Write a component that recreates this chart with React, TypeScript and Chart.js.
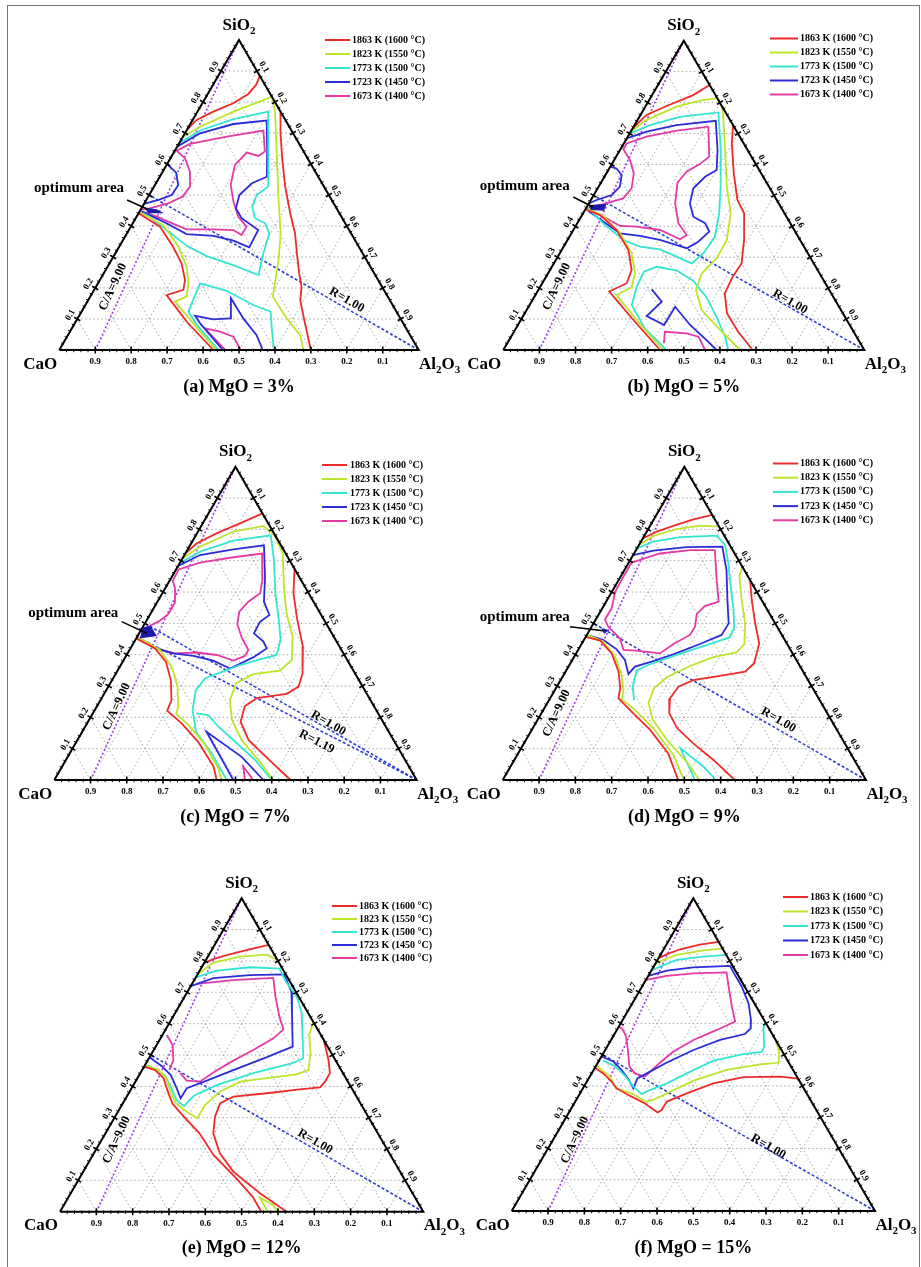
import React, { useEffect, useRef } from "react";
import { Chart, registerables } from "chart.js";

Chart.register(...registerables);

// A composition point: [Al2O3 fraction, SiO2 fraction]; CaO = 1 - Al2O3 - SiO2.
type Pt = [number, number];

// ---------- shared axis, legend and ratio-line values ----------
const TICKS = [0.1, 0.2, 0.3, 0.4, 0.5, 0.6, 0.7, 0.8, 0.9];
const TICK_LABELS = ["0.1", "0.2", "0.3", "0.4", "0.5", "0.6", "0.7", "0.8", "0.9"];
const ISOTHERMS = ["1863 K (1600 °C)", "1823 K (1550 °C)", "1773 K (1500 °C)", "1723 K (1450 °C)", "1673 K (1400 °C)"];
const CA_RATIO = 9.0;
const MGO_CONTENT = [3, 5, 7, 9, 12, 15];
const PANEL_TAGS = ["a", "b", "c", "d", "e", "f"];
const BASICITY: number[][] = [[1.0], [1.0], [1.0, 1.19], [1.0], [1.0], [1.0]];

// ---------- isotherms, MgO = 3 % ----------
const mgo3_1863: Pt[][] = [
  [[0.116, 0.884], [0.12, 0.855], [0.113, 0.826], [0.086, 0.796], [0.044, 0.769], [0.011, 0.742], [0, 0.71]],
  [[0.231, 0.769], [0.266, 0.699], [0.314, 0.613], [0.365, 0.527], [0.422, 0.441], [0.468, 0.376], [0.505, 0.312], [0.544, 0.247], [0.572, 0.204], [0.59, 0.161], [0.633, 0.097], [0.7, 0]],
  [[0, 0.441], [0.081, 0.398], [0.15, 0.333], [0.2, 0.28], [0.237, 0.226], [0.248, 0.194], [0.21, 0.177], [0.309, 0.091], [0.429, 0]],
];
const mgo3_1823: Pt[][] = [
  [[0, 0.688], [0.032, 0.72], [0.1, 0.769], [0.165, 0.806], [0.183, 0.817], [0.213, 0.774], [0.282, 0.645], [0.368, 0.484], [0.428, 0.376], [0.465, 0.29], [0.508, 0.172], [0.582, 0.102], [0.646, 0.048], [0.679, 0]],
  [[0, 0.445], [0.088, 0.403], [0.165, 0.333], [0.22, 0.269], [0.252, 0.215], [0.268, 0.172], [0.244, 0.156], [0.33, 0.086], [0.436, 0]],
];
const mgo3_1773: Pt[][] = [
  [[0, 0.667], [0.038, 0.708], [0.112, 0.745], [0.197, 0.769], [0.259, 0.645], [0.318, 0.527], [0.299, 0.5], [0.306, 0.462], [0.332, 0.425], [0.368, 0.409], [0.396, 0.376], [0.412, 0.312], [0.433, 0.242], [0.347, 0.274], [0.258, 0.303], [0.187, 0.336], [0.105, 0.387], [0.032, 0.432], [0.011, 0.441]],
  [[0.443, 0], [0.342, 0.081], [0.297, 0.124], [0.284, 0.215], [0.37, 0.191], [0.467, 0.145], [0.526, 0.124], [0.559, 0.065], [0.597, 0]],
];
const mgo3_1723: Pt[][] = [
  [[0, 0.6], [0.039, 0.572], [0.065, 0.532], [0.063, 0.5], [0.034, 0.484], [0, 0.471]],
  [[0, 0.656], [0.042, 0.699], [0.12, 0.729], [0.207, 0.74], [0.256, 0.645], [0.298, 0.559], [0.267, 0.538], [0.251, 0.5], [0.263, 0.457], [0.295, 0.425], [0.36, 0.387], [0.363, 0.331], [0.308, 0.353], [0.245, 0.368], [0.167, 0.374], [0.094, 0.409], [0.024, 0.439], [0.005, 0.447]],
  [[0.455, 0], [0.349, 0.086], [0.323, 0.11], [0.379, 0.099], [0.424, 0.102], [0.394, 0.167], [0.461, 0.102], [0.525, 0.048], [0.566, 0]],
];
const mgo3_1673: Pt[][] = [
  [[0, 0.452], [0.022, 0.457], [0.067, 0.473], [0.096, 0.495], [0.1, 0.527], [0.076, 0.575], [0.041, 0.618], [0.005, 0.643], [0.031, 0.665], [0.122, 0.688], [0.214, 0.708], [0.252, 0.64], [0.241, 0.626], [0.203, 0.637], [0.19, 0.597], [0.211, 0.532], [0.245, 0.479], [0.283, 0.43], [0.322, 0.398], [0.322, 0.371], [0.291, 0.387], [0.234, 0.389], [0.16, 0.389], [0.114, 0.407], [0.056, 0.43], [0.014, 0.445]],
  [[0.462, 0], [0.37, 0.07], [0.418, 0.059], [0.463, 0.043], [0.505, 0]],
];

// ---------- isotherms, MgO = 5 % ----------
const mgo5_1863: Pt[][] = [
  [[0.143, 0.857], [0.114, 0.824], [0.058, 0.789], [0.017, 0.76], [0, 0.717]],
  [[0.273, 0.727], [0.299, 0.668], [0.353, 0.571], [0.406, 0.485], [0.446, 0.442], [0.489, 0.356], [0.52, 0.28], [0.517, 0.237], [0.522, 0.183], [0.56, 0.119], [0.621, 0.059], [0.691, 0]],
  [[0, 0.455], [0.05, 0.436], [0.12, 0.388], [0.185, 0.323], [0.226, 0.259], [0.234, 0.216], [0.199, 0.189], [0.312, 0.097], [0.434, 0]],
];
const mgo5_1823: Pt[][] = [
  [[0, 0.706], [0.025, 0.744], [0.087, 0.787], [0.142, 0.806], [0.186, 0.814], [0.22, 0.776], [0.291, 0.647], [0.355, 0.528], [0.409, 0.442], [0.441, 0.356], [0.443, 0.296], [0.426, 0.248], [0.437, 0.194], [0.485, 0.129], [0.568, 0.065], [0.656, 0]],
  [[0, 0.461], [0.06, 0.433], [0.135, 0.377], [0.199, 0.313], [0.241, 0.248], [0.254, 0.203], [0.225, 0.178], [0.329, 0.09], [0.443, 0]],
];
const mgo5_1773: Pt[][] = [
  [[0, 0.7], [0.043, 0.727], [0.112, 0.754], [0.212, 0.768], [0.279, 0.647], [0.338, 0.528], [0.377, 0.442], [0.403, 0.366], [0.398, 0.313], [0.382, 0.28], [0.329, 0.302], [0.271, 0.325], [0.212, 0.334], [0.16, 0.353], [0.087, 0.399], [0.022, 0.446]],
  [[0.452, 0], [0.357, 0.07], [0.283, 0.146], [0.267, 0.205], [0.263, 0.253], [0.29, 0.269], [0.352, 0.257], [0.414, 0.224], [0.478, 0.17], [0.538, 0.106], [0.593, 0.043], [0.623, 0]],
];
const mgo5_1723: Pt[][] = [
  [[0, 0.593], [0.02, 0.587], [0.045, 0.566], [0.059, 0.528], [0.05, 0.501], [0.016, 0.485], [0, 0.474]],
  [[0, 0.684], [0.044, 0.706], [0.116, 0.727], [0.218, 0.741], [0.27, 0.647], [0.3, 0.582], [0.279, 0.56], [0.265, 0.523], [0.28, 0.474], [0.311, 0.431], [0.354, 0.41], [0.379, 0.383], [0.365, 0.35], [0.344, 0.329], [0.256, 0.356], [0.194, 0.369], [0.135, 0.377], [0.07, 0.415], [0.01, 0.45]],
  [[0.313, 0.196], [0.361, 0.156], [0.342, 0.11], [0.405, 0.081], [0.406, 0.14], [0.477, 0.081], [0.547, 0.032], [0.591, 0]],
];
const mgo5_1673: Pt[][] = [
  [[0, 0.457], [0.041, 0.472], [0.087, 0.49], [0.094, 0.523], [0.076, 0.571], [0.044, 0.614], [0.008, 0.649], [0.008, 0.668], [0.052, 0.69], [0.126, 0.709], [0.207, 0.722], [0.258, 0.625], [0.244, 0.601], [0.22, 0.577], [0.212, 0.541], [0.239, 0.474], [0.28, 0.41], [0.322, 0.372], [0.311, 0.358], [0.24, 0.388], [0.17, 0.399], [0.123, 0.401], [0.062, 0.431], [0.017, 0.45]],
  [[0.434, 0.022], [0.418, 0.059], [0.481, 0.054], [0.519, 0.043], [0.559, 0]],
];

// ---------- isotherms, MgO = 7 % ----------
const mgo7_1863: Pt[][] = [
  [[0.149, 0.851], [0.103, 0.819], [0.054, 0.787], [0.015, 0.755], [0, 0.723]],
  [[0.325, 0.676], [0.362, 0.596], [0.415, 0.511], [0.473, 0.426], [0.515, 0.34], [0.525, 0.298], [0.504, 0.275], [0.428, 0.261], [0.408, 0.236], [0.421, 0.186], [0.472, 0.128], [0.564, 0.062], [0.652, 0]],
  [[0, 0.452], [0.068, 0.42], [0.119, 0.378], [0.162, 0.319], [0.196, 0.255], [0.201, 0.221], [0.261, 0.181], [0.336, 0.122], [0.418, 0.043], [0.448, 0]],
];
const mgo7_1823: Pt[][] = [
  [[0, 0.707], [0.03, 0.745], [0.098, 0.793], [0.172, 0.811], [0.215, 0.783], [0.269, 0.723], [0.325, 0.617], [0.375, 0.532], [0.429, 0.457], [0.464, 0.383], [0.448, 0.349], [0.38, 0.338], [0.347, 0.309], [0.357, 0.255], [0.394, 0.192], [0.453, 0.128], [0.556, 0.043], [0.604, 0]],
  [[0, 0.457], [0.084, 0.415], [0.143, 0.362], [0.191, 0.298], [0.225, 0.234], [0.231, 0.211], [0.282, 0.176], [0.355, 0.117], [0.434, 0.037], [0.462, 0]],
];
const mgo7_1773: Pt[][] = [
  [[0, 0.692], [0.038, 0.729], [0.112, 0.764], [0.207, 0.781], [0.255, 0.702], [0.312, 0.596], [0.364, 0.511], [0.401, 0.447], [0.414, 0.399], [0.375, 0.385], [0.329, 0.367], [0.286, 0.343], [0.254, 0.325], [0.247, 0.287], [0.27, 0.223], [0.314, 0.154], [0.392, 0.085], [0.476, 0]],
  [[0.6, 0], [0.522, 0.064], [0.438, 0.122], [0.368, 0.17], [0.321, 0.207], [0.286, 0.213]],
];
const mgo7_1723: Pt[][] = [
  [[0, 0.683], [0.043, 0.718], [0.126, 0.736], [0.204, 0.749], [0.257, 0.649], [0.294, 0.569], [0.33, 0.527], [0.315, 0.505], [0.317, 0.468], [0.356, 0.442], [0.376, 0.42], [0.354, 0.392], [0.307, 0.356], [0.248, 0.381], [0.186, 0.396], [0.126, 0.404], [0.072, 0.42], [0.023, 0.445]],
  [[0.494, 0], [0.343, 0.154], [0.48, 0.074], [0.577, 0]],
];
const mgo7_1673: Pt[][] = [
  [[0.005, 0.481], [0.036, 0.507], [0.05, 0.529], [0.05, 0.566], [0.027, 0.612], [0.009, 0.636], [0.007, 0.672], [0.055, 0.694], [0.139, 0.711], [0.212, 0.723], [0.255, 0.638], [0.27, 0.596], [0.251, 0.569], [0.242, 0.537], [0.256, 0.498], [0.288, 0.457], [0.328, 0.415], [0.328, 0.396], [0.304, 0.381], [0.249, 0.399], [0.189, 0.407], [0.131, 0.404], [0.084, 0.415], [0.036, 0.438]],
  [[0.526, 0], [0.5, 0.043], [0.549, 0]],
];

// ---------- isotherms, MgO = 9 % ----------
const mgo9_1863: Pt[][] = [
  [[0.154, 0.846], [0.109, 0.832], [0.064, 0.811], [0.028, 0.793], [0, 0.771]],
  [[0.362, 0.638], [0.398, 0.575], [0.445, 0.5], [0.488, 0.436], [0.506, 0.372], [0.494, 0.346], [0.432, 0.332], [0.365, 0.319], [0.335, 0.298], [0.33, 0.261], [0.352, 0.213], [0.398, 0.165], [0.466, 0.117], [0.548, 0.064], [0.639, 0]],
  [[0, 0.457], [0.046, 0.445], [0.098, 0.404], [0.146, 0.346], [0.177, 0.293], [0.188, 0.261], [0.239, 0.223], [0.326, 0.16], [0.413, 0.085], [0.483, 0]],
];
const mgo9_1823: Pt[][] = [
  [[0, 0.75], [0.025, 0.779], [0.078, 0.801], [0.137, 0.812], [0.191, 0.809]],
  [[0.319, 0.681], [0.327, 0.649], [0.374, 0.569], [0.42, 0.495], [0.448, 0.434], [0.44, 0.407], [0.384, 0.392], [0.334, 0.364], [0.288, 0.328], [0.27, 0.293], [0.278, 0.247], [0.317, 0.192], [0.395, 0.122], [0.477, 0.059], [0.541, 0]],
  [[0, 0.463], [0.056, 0.442], [0.112, 0.394], [0.16, 0.335], [0.189, 0.287], [0.2, 0.257], [0.249, 0.226], [0.336, 0.162], [0.43, 0.08], [0.499, 0]],
];
const mgo9_1773: Pt[][] = [
  [[0, 0.739], [0.034, 0.761], [0.101, 0.775], [0.199, 0.78], [0.237, 0.75], [0.275, 0.692], [0.319, 0.617], [0.364, 0.543], [0.395, 0.484], [0.396, 0.455], [0.361, 0.438], [0.316, 0.417], [0.265, 0.392], [0.217, 0.367], [0.194, 0.349], [0.209, 0.298], [0.234, 0.255]],
  [[0.529, 0], [0.439, 0.101], [0.531, 0.043], [0.587, 0]],
];
const mgo9_1723: Pt[][] = [
  [[0, 0.718], [0.049, 0.732], [0.135, 0.743], [0.232, 0.745], [0.281, 0.67], [0.331, 0.575], [0.372, 0.5], [0.371, 0.463], [0.326, 0.434], [0.269, 0.401], [0.221, 0.378], [0.183, 0.362], [0.177, 0.338], [0.145, 0.383], [0.105, 0.417], [0.054, 0.447], [0.011, 0.46]],
];
const mgo9_1673: Pt[][] = [
  [[0.008, 0.694], [0.071, 0.723], [0.149, 0.734], [0.217, 0.734], [0.27, 0.638], [0.31, 0.569], [0.279, 0.555], [0.269, 0.53], [0.285, 0.489], [0.284, 0.463], [0.253, 0.434], [0.231, 0.404], [0.162, 0.413], [0.125, 0.415], [0.097, 0.452], [0.046, 0.489], [0.025, 0.513], [0.026, 0.548], [0.009, 0.601], [0.008, 0.649], [0.008, 0.694]],
];

// ---------- isotherms, MgO = 12 % ----------
const mgo12_1863: Pt[][] = [
  [[0.149, 0.851], [0.096, 0.835], [0.049, 0.819], [0.019, 0.806], [0, 0.793]],
  [[0.452, 0.548], [0.497, 0.484], [0.522, 0.442], [0.522, 0.415], [0.517, 0.397], [0.465, 0.39], [0.38, 0.378], [0.294, 0.367], [0.268, 0.346], [0.275, 0.303], [0.297, 0.25], [0.347, 0.186], [0.413, 0.128], [0.521, 0.059], [0.624, 0]],
  [[0, 0.463], [0.036, 0.452], [0.072, 0.426], [0.111, 0.376], [0.138, 0.344], [0.187, 0.305], [0.259, 0.25], [0.332, 0.181], [0.427, 0.11], [0.506, 0.048], [0.554, 0]],
];
const mgo12_1823: Pt[][] = [
  [[0, 0.755], [0.025, 0.795], [0.089, 0.814], [0.159, 0.82], [0.197, 0.803]],
  [[0.394, 0.606], [0.404, 0.564], [0.437, 0.505], [0.458, 0.452], [0.432, 0.438], [0.356, 0.426], [0.288, 0.415], [0.249, 0.383], [0.229, 0.34], [0.229, 0.298], [0.189, 0.319], [0.146, 0.346], [0.115, 0.38], [0.077, 0.429], [0.041, 0.454], [0, 0.467]],
  [[0.572, 0], [0.527, 0.045], [0.575, 0.022], [0.6, 0]],
];
const mgo12_1773: Pt[][] = [
  [[0, 0.748], [0.047, 0.769], [0.133, 0.78], [0.216, 0.776], [0.255, 0.734], [0.309, 0.686], [0.349, 0.633], [0.394, 0.548], [0.425, 0.489], [0.401, 0.473], [0.311, 0.442], [0.229, 0.404], [0.183, 0.369], [0.173, 0.337], [0.143, 0.356], [0.105, 0.399], [0.071, 0.435], [0.034, 0.454], [0.007, 0.467]],
];
const mgo12_1723: Pt[][] = [
  [[0, 0.72], [0.05, 0.745], [0.145, 0.755], [0.238, 0.757], [0.286, 0.702], [0.322, 0.633], [0.377, 0.527], [0.323, 0.493], [0.251, 0.452], [0.195, 0.418], [0.152, 0.394], [0.151, 0.362], [0.124, 0.394], [0.087, 0.436], [0.047, 0.465], [0, 0.493]],
];
const mgo12_1673: Pt[][] = [
  [[0.013, 0.727], [0.107, 0.739], [0.214, 0.746], [0.25, 0.686], [0.293, 0.622], [0.324, 0.582], [0.311, 0.553], [0.274, 0.516], [0.236, 0.482], [0.2, 0.444], [0.178, 0.415], [0.14, 0.418], [0.11, 0.442]],
  [[0.012, 0.564], [0.044, 0.532], [0.07, 0.484], [0.075, 0.452]],
];

// ---------- isotherms, MgO = 15 % ----------
const mgo15_1863: Pt[][] = [
  [[0.139, 0.861], [0.092, 0.852], [0.045, 0.837], [0.013, 0.819], [0, 0.808]],
  [[0.577, 0.423], [0.524, 0.43], [0.424, 0.428], [0.351, 0.408], [0.294, 0.376], [0.252, 0.35], [0.251, 0.323], [0.244, 0.315], [0.195, 0.344], [0.142, 0.368], [0.093, 0.392], [0.068, 0.414], [0.032, 0.44], [0, 0.458]],
];
const mgo15_1823: Pt[][] = [
  [[0.16, 0.84], [0.103, 0.832], [0.045, 0.819], [0.013, 0.801], [0, 0.79]],
  [[0.453, 0.547], [0.485, 0.504], [0.497, 0.474], [0.449, 0.469], [0.366, 0.451], [0.292, 0.417], [0.239, 0.376], [0.212, 0.355], [0.193, 0.349], [0.148, 0.374], [0.091, 0.392], [0.057, 0.428], [0, 0.466]],
];
const mgo15_1773: Pt[][] = [
  [[0.181, 0.819], [0.112, 0.813], [0.053, 0.803], [0.021, 0.784], [0, 0.769]],
  [[0.395, 0.606], [0.401, 0.584], [0.432, 0.526], [0.434, 0.509], [0.387, 0.502], [0.315, 0.481], [0.262, 0.44], [0.223, 0.408], [0.184, 0.385], [0.171, 0.374], [0.136, 0.398], [0.096, 0.432], [0.054, 0.462], [0.012, 0.481]],
];
const mgo15_1723: Pt[][] = [
  [[0, 0.752], [0.042, 0.769], [0.11, 0.779], [0.209, 0.784], [0.232, 0.76], [0.274, 0.718], [0.32, 0.664], [0.353, 0.611], [0.366, 0.584], [0.359, 0.566], [0.3, 0.547], [0.243, 0.515], [0.189, 0.474], [0.152, 0.44], [0.134, 0.424], [0.139, 0.392], [0.111, 0.421], [0.077, 0.451], [0.041, 0.478], [0, 0.494]],
];
const mgo15_1673: Pt[][] = [
  [[0, 0.739], [0.051, 0.752], [0.12, 0.76], [0.21, 0.763], [0.238, 0.718], [0.279, 0.654], [0.312, 0.606], [0.275, 0.579], [0.227, 0.547], [0.19, 0.51], [0.171, 0.474], [0.152, 0.43], [0.119, 0.44], [0.093, 0.462], [0.069, 0.504], [0.036, 0.558], [0.015, 0.581], [0, 0.59]],
];

// ---------- optimum composition patches ----------
const OPT_MGO3: Pt[] = [[0.006, 0.46], [0.044, 0.454], [0.071, 0.441], [0.027, 0.441]];
const OPT_MGO5: Pt[] = [[0.001, 0.469], [0.05, 0.472], [0.054, 0.45], [0.016, 0.453]];
const OPT_MGO7: Pt[] = [[0, 0.487], [0.02, 0.492], [0.053, 0.46], [0.01, 0.452]];
const OPT_MGO9: Pt[] = [[0.03, 0.484], [0.053, 0.479], [0.046, 0.466]];

// ---------- styling ----------
const SERIF = "'Liberation Serif', 'Times New Roman', Times, serif";
const ISO_COLORS = ["#ee2b2b", "#bde52c", "#34e6d2", "#2b2bd8", "#e43aa4"];
const GRID_COLOR = "#a8a8a8";
const CA_COLOR = "#a03cf0";
const R_COLOR = "#3040d0";
const OPT_FILL = "#1c1ca8";

type LegendBox = { x0: number; x1: number; tx: number; y0: number; step: number };
type PanelCfg = {
  tag: string;
  mgo: number;
  box: [number, number, number, number]; // canvas left, top, width, height on the page
  origin: [number, number]; // page position of the CaO corner
  side: number; // CaO–Al2O3 edge length, px
  tall: number; // triangle height, px
  curves: Pt[][][];
  basicity: number[];
  optimum?: Pt[];
  optimumText?: [number, number]; // plot coords (x along base, y = SiO2)
  optimumArrow?: [number, number, number, number];
  rLabels: [number, number][];
  caLabel: [number, number];
  legend: LegendBox;
};

const PANELS: PanelCfg[] = [
  {
    tag: PANEL_TAGS[0], mgo: MGO_CONTENT[0], box: [0, 0, 470, 405], origin: [59.3, 350], side: 359.4, tall: 310,
    curves: [mgo3_1863, mgo3_1823, mgo3_1773, mgo3_1723, mgo3_1673], basicity: BASICITY[0],
    optimum: OPT_MGO3, optimumText: [0.0548, 0.5226], optimumArrow: [0.1886, 0.4839, 0.2444, 0.4548],
    rLabels: [[0.7997, 0.1613]], caLabel: [0.1494, 0.2032],
    legend: { x0: 325, x1: 350, tx: 352, y0: 40, step: 14 },
  },
  {
    tag: PANEL_TAGS[1], mgo: MGO_CONTENT[1], box: [455, 0, 466, 405], origin: [503.3, 350], side: 361, tall: 309.3,
    curves: [mgo5_1863, mgo5_1823, mgo5_1773, mgo5_1723, mgo5_1673], basicity: BASICITY[1],
    optimum: OPT_MGO5, optimumText: [0.0593, 0.531], optimumArrow: [0.1939, 0.4947, 0.2485, 0.4623],
    rLabels: [[0.7942, 0.156]], caLabel: [0.1479, 0.2047],
    legend: { x0: 770, x1: 798, tx: 800, y0: 38.5, step: 14 },
  },
  {
    tag: PANEL_TAGS[2], mgo: MGO_CONTENT[2], box: [0, 410, 470, 425], origin: [54.3, 780], side: 362.4, tall: 313.3,
    curves: [mgo7_1863, mgo7_1823, mgo7_1773, mgo7_1723, mgo7_1673], basicity: BASICITY[2],
    optimum: OPT_MGO7, optimumText: [0.0524, 0.534], optimumArrow: [0.186, 0.5053, 0.255, 0.4682],
    rLabels: [[0.756, 0.181], [0.724, 0.122]], caLabel: [0.1722, 0.234],
    legend: { x0: 322, x1: 347, tx: 350, y0: 465, step: 14 },
  },
  {
    tag: PANEL_TAGS[3], mgo: MGO_CONTENT[3], box: [455, 410, 466, 425], origin: [502.7, 780], side: 363.3, tall: 313.3,
    curves: [mgo9_1863, mgo9_1823, mgo9_1773, mgo9_1723, mgo9_1673], basicity: BASICITY[3],
    optimum: OPT_MGO9, optimumText: [0.0606, 0.5212], optimumArrow: [0.1852, 0.4893, 0.2769, 0.4765],
    rLabels: [[0.7586, 0.1915]], caLabel: [0.1486, 0.2129],
    legend: { x0: 773, x1: 798, tx: 800, y0: 463.5, step: 14.2 },
  },
  {
    tag: PANEL_TAGS[4], mgo: MGO_CONTENT[4], box: [0, 840, 470, 427], origin: [60, 1211.7], side: 363.3, tall: 313.4,
    curves: [mgo12_1863, mgo12_1823, mgo12_1773, mgo12_1723, mgo12_1673], basicity: BASICITY[4],
    rLabels: [[0.7019, 0.2234]], caLabel: [0.156, 0.2288],
    legend: { x0: 332, x1: 357, tx: 359, y0: 906, step: 13 },
  },
  {
    tag: PANEL_TAGS[5], mgo: MGO_CONTENT[5], box: [455, 840, 466, 427], origin: [511.7, 1211], side: 363.3, tall: 312.7,
    curves: [mgo15_1863, mgo15_1823, mgo15_1773, mgo15_1723, mgo15_1673], basicity: BASICITY[5],
    rLabels: [[0.7063, 0.2056]], caLabel: [0.1742, 0.227],
    legend: { x0: 783, x1: 808, tx: 810, y0: 897, step: 14.5 },
  },
];

// ternary composition -> plot coordinates (x along the CaO–Al2O3 base, y = SiO2 fraction)
const toXY = (p: Pt) => ({ x: p[0] + p[1] / 2, y: p[1] });

function lineSet(pts: Pt[], color: string, width: number, dash: number[], order: number) {
  return {
    data: pts.map(toXY),
    showLine: true,
    borderColor: color,
    borderWidth: width,
    borderDash: dash,
    pointRadius: 0,
    pointHoverRadius: 0,
    fill: false,
    tension: 0,
    order,
  };
}

function buildDatasets(p: PanelCfg) {
  const ds: any[] = [];
  ds.push(lineSet([[0, 0], [1, 0], [0, 1], [0, 0]], "#000", 2, [], 0));
  p.curves.forEach((group, i) => group.forEach((c) => ds.push(lineSet(c, ISO_COLORS[i], 1.8, [], 1))));
  ds.push(lineSet([[1 / (1 + CA_RATIO), 0], [0, 1]], CA_COLOR, 1.6, [2, 2], 2));
  p.basicity.forEach((r) => ds.push(lineSet([[1, 0], [0, 1 / (1 + r)]], R_COLOR, 1.6, [3, 2], 2)));
  TICKS.forEach((k) => {
    ds.push(lineSet([[0, k], [1 - k, k]], GRID_COLOR, 1, [1.5, 2.5], 3));
    ds.push(lineSet([[k, 0], [k, 1 - k]], GRID_COLOR, 1, [1.5, 2.5], 3));
    ds.push(lineSet([[1 - k, 0], [0, 1 - k]], GRID_COLOR, 1, [1.5, 2.5], 3));
  });
  return ds;
}

function drawFormula(ctx: CanvasRenderingContext2D, parts: [string, boolean][], cx: number, cy: number, size: number) {
  const big = `bold ${size}px ${SERIF}`;
  const small = `bold ${Math.round(size * 0.62)}px ${SERIF}`;
  let total = 0;
  const widths = parts.map(([t, sub]) => {
    ctx.font = sub ? small : big;
    const w = ctx.measureText(t).width;
    total += w;
    return w;
  });
  let x = cx - total / 2;
  const base = cy + size * 0.34;
  ctx.textAlign = "left";
  ctx.textBaseline = "alphabetic";
  parts.forEach(([t, sub], i) => {
    ctx.font = sub ? small : big;
    ctx.fillText(t, x, sub ? base + size * 0.25 : base);
    x += widths[i];
  });
}

function rotatedText(ctx: CanvasRenderingContext2D, text: string, x: number, y: number, angle: number) {
  ctx.save();
  ctx.translate(x, y);
  ctx.rotate(angle);
  ctx.textAlign = "center";
  ctx.textBaseline = "middle";
  ctx.fillText(text, 0, 0);
  ctx.restore();
}

function makeOverlay(p: PanelCfg) {
  return {
    id: "ternaryOverlay",
    afterDatasetsDraw(chart: any) {
      const ctx: CanvasRenderingContext2D = chart.ctx;
      const sx = chart.scales.x;
      const sy = chart.scales.y;
      const Q = (x: number, y: number): [number, number] => [sx.getPixelForValue(x), sy.getPixelForValue(y)];
      const P = (a: number, s: number) => Q(a + s / 2, s);
      const [ox, oy] = [p.box[0], p.box[1]];
      ctx.save();

      // optimum composition patch
      if (p.optimum) {
        ctx.beginPath();
        p.optimum.forEach((pt, i) => {
          const [x, y] = P(pt[0], pt[1]);
          if (i) ctx.lineTo(x, y);
          else ctx.moveTo(x, y);
        });
        ctx.closePath();
        ctx.fillStyle = OPT_FILL;
        ctx.fill();
      }

      // edge ticks and tick labels (edges run counter-clockwise on screen)
      const cao = P(0, 0), al = P(1, 0), si = P(0, 1);
      const edges: { a: [number, number]; b: [number, number]; kind: string }[] = [
        { a: cao, b: al, kind: "bottom" },
        { a: al, b: si, kind: "right" },
        { a: si, b: cao, kind: "left" },
      ];
      ctx.strokeStyle = "#000";
      ctx.fillStyle = "#000";
      edges.forEach(({ a, b, kind }) => {
        const len = Math.hypot(b[0] - a[0], b[1] - a[1]);
        const dx = (b[0] - a[0]) / len, dy = (b[1] - a[1]) / len;
        const nx = -dy, ny = dx;
        for (let i = 1; i < 50; i++) {
          const t = i / 50;
          const px = a[0] + (b[0] - a[0]) * t, py = a[1] + (b[1] - a[1]) * t;
          const major = i % 5 === 0;
          ctx.lineWidth = major ? 1.6 : 1;
          ctx.beginPath();
          if (major) {
            ctx.moveTo(px - nx * 3.5, py - ny * 3.5);
            ctx.lineTo(px + nx * 3.5, py + ny * 3.5);
          } else {
            ctx.moveTo(px - nx * 1.2, py - ny * 1.2);
            ctx.lineTo(px + nx * 2.2, py + ny * 2.2);
          }
          ctx.stroke();
        }
        ctx.font = `bold 9px ${SERIF}`;
        TICKS.forEach((t) => {
          const label = TICK_LABELS[Math.round((1 - t) * 10) - 1];
          const px = a[0] + (b[0] - a[0]) * t, py = a[1] + (b[1] - a[1]) * t;
          if (kind === "bottom") rotatedText(ctx, label, px, py + 12, 0);
          else rotatedText(ctx, label, px + nx * 8, py + ny * 8, Math.atan2(-dy, -dx));
        });
      });

      // corner labels and caption
      drawFormula(ctx, [["CaO", false]], cao[0] - 19, cao[1] + 13, 17);
      drawFormula(ctx, [["Al", false], ["2", true], ["O", false], ["3", true]], al[0] + 21, al[1] + 13, 17);
      drawFormula(ctx, [["SiO", false], ["2", true]], si[0], si[1] - 16, 17);
      ctx.font = `bold 18px ${SERIF}`;
      ctx.textAlign = "center";
      ctx.textBaseline = "middle";
      ctx.fillText(`(${p.tag}) MgO = ${p.mgo}%`, (cao[0] + al[0]) / 2, cao[1] + 37);

      // ratio line labels
      ctx.font = `bold 12.5px ${SERIF}`;
      const caStart = P(1 / (1 + CA_RATIO), 0);
      const caAngle = Math.atan2(si[1] - caStart[1], si[0] - caStart[0]);
      const [cx, cy] = Q(p.caLabel[0], p.caLabel[1]);
      rotatedText(ctx, `C/A=${CA_RATIO.toFixed(2)}`, cx, cy, caAngle);
      p.basicity.forEach((r, i) => {
        const left = P(0, 1 / (1 + r));
        const ang = Math.atan2(al[1] - left[1], al[0] - left[0]);
        const [rx, ry] = Q(p.rLabels[i][0], p.rLabels[i][1]);
        rotatedText(ctx, `R=${r.toFixed(2)}`, rx, ry, ang);
      });

      // optimum label with leader line
      if (p.optimumText && p.optimumArrow) {
        ctx.font = `bold 15px ${SERIF}`;
        const [tx, ty] = Q(p.optimumText[0], p.optimumText[1]);
        rotatedText(ctx, "optimum area", tx, ty, 0);
        const [x1, y1] = Q(p.optimumArrow[0], p.optimumArrow[1]);
        const [x2, y2] = Q(p.optimumArrow[2], p.optimumArrow[3]);
        ctx.lineWidth = 1.5;
        ctx.beginPath();
        ctx.moveTo(x1, y1);
        ctx.lineTo(x2, y2);
        ctx.stroke();
      }

      // legend
      const lg = p.legend;
      ctx.font = `bold 10px ${SERIF}`;
      ctx.textAlign = "left";
      ctx.textBaseline = "middle";
      ISOTHERMS.forEach((label, i) => {
        const y = lg.y0 + i * lg.step - oy;
        ctx.strokeStyle = ISO_COLORS[i];
        ctx.lineWidth = 2;
        ctx.beginPath();
        ctx.moveTo(lg.x0 - ox, y);
        ctx.lineTo(lg.x1 - ox, y);
        ctx.stroke();
        ctx.fillStyle = "#000";
        ctx.fillText(label, lg.tx - ox, y);
      });
      ctx.restore();
    },
  };
}

function TernaryPanel({ cfg }: { cfg: PanelCfg }) {
  const ref = useRef<HTMLCanvasElement | null>(null);
  useEffect(() => {
    const canvas = ref.current;
    if (!canvas) return;
    const [left, top, W, H] = cfg.box;
    const bx = cfg.origin[0] - left;
    const by = cfg.origin[1] - top;
    const chart = new Chart(canvas, {
      type: "scatter",
      data: { datasets: buildDatasets(cfg) },
      options: {
        animation: false,
        responsive: false,
        devicePixelRatio: 1,
        events: [],
        layout: { padding: 0 },
        scales: {
          x: { type: "linear", display: false, min: -bx / cfg.side, max: (W - bx) / cfg.side },
          y: { type: "linear", display: false, min: (by - H) / cfg.tall, max: by / cfg.tall },
        },
        plugins: { legend: { display: false }, tooltip: { enabled: false } },
      },
      plugins: [makeOverlay(cfg)],
    } as any);
    return () => chart.destroy();
  }, [cfg]);
  const [left, top, W, H] = cfg.box;
  return (
    <canvas
      ref={ref}
      width={W}
      height={H}
      style={{ position: "absolute", left, top, width: W, height: H }}
    />
  );
}

export default function App() {
  return (
    <div style={{ position: "absolute", left: 0, top: 0, width: 921, height: 1267, background: "#fff", overflow: "hidden" }}>
      <div
        style={{
          position: "absolute",
          left: 7,
          top: 5,
          width: 911,
          height: 1270,
          border: "1px solid #777",
        }}
      />
      {PANELS.map((p) => (
        <TernaryPanel key={p.tag} cfg={p} />
      ))}
    </div>
  );
}
